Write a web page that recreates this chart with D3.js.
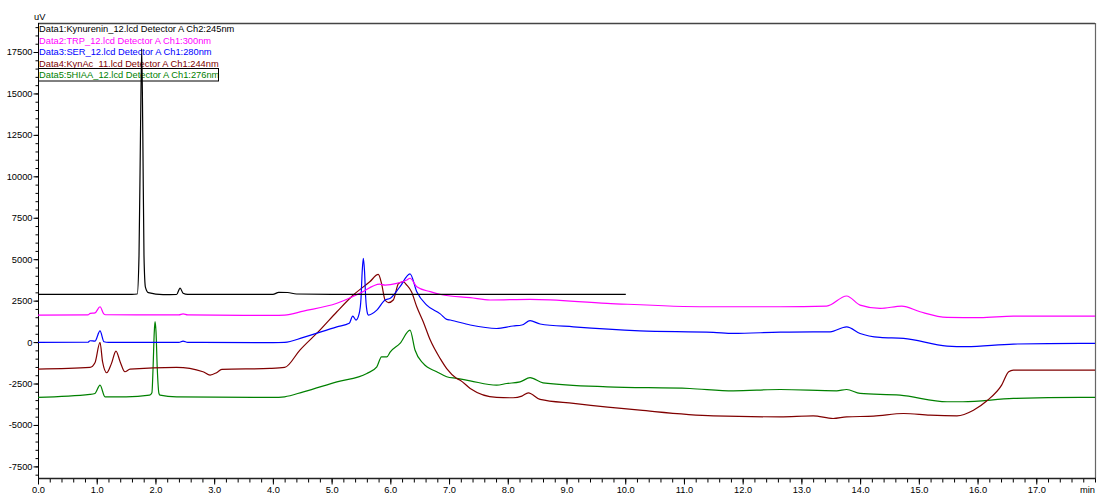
<!DOCTYPE html>
<html>
<head>
<meta charset="utf-8">
<script src="https://cdn.jsdelivr.net/npm/d3@7"></script>
<style>
  html, body { margin: 0; padding: 0; background: #fff; }
  svg { display: block; font-family: "Liberation Sans", Arial, sans-serif; }
</style>
</head>
<body>
<svg id="chart" width="1097" height="495"></svg>
<script>
// Chromatogram traces: [retention time (min), signal (uV)]
const kynurenin = [
  [0, 2880], [1.60, 2880], [1.69, 2900], [1.72, 5200], [1.745, 12500], [1.766, 17700],
  [1.785, 12500], [1.805, 5200], [1.83, 3300], [1.88, 2980], [2.13, 2860], [2.36, 2870],
  [2.42, 3260], [2.47, 2950], [2.55, 2880], [4.00, 2880], [4.10, 3000], [4.25, 2990],
  [4.40, 2900], [5.0, 2880], [10.01, 2880]
];
const trp = [
  [0, 1630], [0.85, 1640], [0.89, 1730], [0.97, 1760], [1.056, 2130], [1.12, 1700],
  [1.15, 1650], [2.40, 1640], [2.47, 1700], [2.55, 1640], [4.0, 1610], [4.2, 1630],
  [4.52, 1870], [5.09, 2340], [5.48, 2940], [5.82, 3500], [5.91, 3440], [6.11, 3540],
  [6.28, 3740], [6.335, 3850], [6.45, 3340], [6.68, 3040], [6.90, 2840], [7.36, 2680],
  [7.70, 2540], [8.38, 2580], [9.69, 2340], [11.39, 2130], [12.64, 2130], [13.43, 2170],
  [13.77, 2780], [14.0, 2230], [14.34, 2030], [14.71, 2170], [15.02, 1830], [15.48, 1490],
  [16.04, 1470], [16.61, 1570], [18, 1570]
];
const ser = [
  [0, -20], [0.85, -10], [0.886, 80], [0.97, 60], [1.056, 680], [1.124, 20], [1.2, -20],
  [2.40, -20], [2.47, 60], [2.55, -20], [4.0, -30], [4.2, -20], [4.52, 280], [5.09, 920],
  [5.30, 1130], [5.36, 1570], [5.415, 1330], [5.47, 1730], [5.50, 2600], [5.52, 4200],
  [5.54, 5050], [5.56, 4300], [5.58, 2700], [5.61, 1730], [5.625, 1630], [5.77, 1930],
  [5.91, 2540], [6.0, 2640], [6.165, 3340], [6.335, 4110], [6.45, 3040], [6.62, 2230],
  [6.85, 1700], [6.96, 1370], [7.02, 1330], [7.36, 1030], [7.81, 820], [8.09, 970],
  [8.24, 1030], [8.38, 1290], [8.55, 1090], [9.12, 920], [10.25, 680], [11.5, 590],
  [11.84, 520], [12.64, 600], [13.2, 620], [13.49, 620], [13.77, 920], [14.0, 520],
  [14.34, 280], [14.74, 220], [15.48, -240], [15.81, -280], [16.61, -120], [17.75, -80],
  [18, -80]
];
const kynac = [
  [0, -1630], [0.886, -1530], [0.97, -1250], [1.056, -20], [1.10, -1200], [1.17, -1850],
  [1.25, -1300], [1.328, -540], [1.40, -1200], [1.48, -1790], [1.567, -1630], [2.36, -1530],
  [2.81, -1790], [2.93, -1990], [3.04, -1850], [3.13, -1650], [3.95, -1590], [4.20, -1530],
  [4.46, -480], [4.80, 720], [5.09, 1830], [5.37, 2840], [5.65, 3640], [5.795, 4080],
  [5.85, 3540], [5.91, 2540], [5.97, 2380], [6.05, 2540], [6.14, 3540], [6.22, 3640],
  [6.28, 3440], [6.36, 3040], [6.45, 2130], [6.56, 1230], [6.68, 120], [6.85, -1000],
  [6.96, -1600], [7.13, -2190], [7.19, -2300], [7.36, -2800], [7.81, -3340], [8.09, -3360],
  [8.24, -3260], [8.35, -3060], [8.55, -3460], [9.12, -3700], [10.25, -4110], [11.5, -4450],
  [12.64, -4510], [13.2, -4450], [13.54, -4610], [13.77, -4510], [14.23, -4470],
  [14.74, -4310], [15.19, -4410], [15.65, -4450], [15.93, -4110], [16.16, -3540],
  [16.41, -2600], [16.53, -1790], [16.61, -1690], [18, -1690]
];
const hiaa = [
  [0, -3340], [0.886, -3160], [0.97, -3100], [1.056, -2600], [1.141, -3300], [1.5, -3300],
  [1.90, -3200], [1.94, -3050], [1.96, -1500], [1.98, 600], [1.993, 1230], [2.01, 600],
  [2.03, -1500], [2.06, -3100], [2.078, -3200], [2.36, -3300], [4.0, -3340], [4.2, -3300],
  [4.52, -3000], [5.09, -2400], [5.60, -1890], [5.77, -1490], [5.85, -890], [5.94, -890],
  [6.0, -590], [6.165, -80], [6.335, 720], [6.42, -480], [6.56, -1290], [6.79, -1790],
  [6.96, -2090], [7.13, -2190], [7.36, -2340], [7.81, -2600], [7.98, -2500], [8.21, -2400],
  [8.38, -2150], [8.60, -2460], [9.69, -2700], [11.1, -2800], [11.84, -2940], [12.64, -2860],
  [13.6, -2940], [13.77, -2860], [14.0, -3100], [14.68, -3200], [15.48, -3600], [15.75, -3600],
  [16.61, -3400], [17.75, -3340], [18, -3340]
];

const legendLabels = [
  "Data1:Kynurenin_12.lcd Detector A Ch2:245nm",
  "Data2:TRP_12.lcd Detector A Ch1:300nm",
  "Data3:SER_12.lcd Detector A Ch1:280nm",
  "Data4:KynAc_11.lcd Detector A Ch1:244nm",
  "Data5:5HIAA_12.lcd Detector A Ch1:276nm"
];
const seriesColors = ["#000000", "#ff00ff", "#0000ff", "#800000", "#008000"];
const yMajorTicks = [-7500, -5000, -2500, 0, 2500, 5000, 7500, 10000, 12500, 15000, 17500];
const xMajorTicks = [0, 1, 2, 3, 4, 5, 6, 7, 8, 9, 10, 11, 12, 13, 14, 15, 16, 17];

const series = [kynurenin, trp, ser, kynac, hiaa];

const svg = d3.select("#chart");
const plotLeft = 38, plotRight = 1095, plotTop = 23, plotBottom = 478;

const x = d3.scaleLinear().domain([0, 18]).range([plotLeft, plotRight]);
const y = d3.scaleLinear().domain([-8200, 19250]).range([plotBottom, plotTop]);

const fontSize = 9.3;
const fontFamily = "Liberation Sans, Arial, sans-serif";

// frame: top and right borders
svg.append("line").attr("x1", plotLeft).attr("x2", plotRight).attr("y1", plotTop + 0.5).attr("y2", plotTop + 0.5)
  .attr("stroke", "#444").attr("stroke-width", 1.6);
svg.append("line").attr("x1", plotRight + 0.5).attr("x2", plotRight + 0.5).attr("y1", plotTop).attr("y2", plotBottom)
  .attr("stroke", "#666").attr("stroke-width", 1.2);

// y axis: minor ticks every 500, labelled major ticks every 2500
const yMinor = d3.range(-8000, 19251, 500);
const yMinorAxis = d3.axisLeft(y).tickValues(yMinor).tickSize(3).tickFormat("");
svg.append("g").attr("transform", `translate(${plotLeft + 0.5},0)`).call(yMinorAxis)
  .call(g => g.select(".domain").remove());
const yAxis = d3.axisLeft(y).tickValues(yMajorTicks).tickSize(5).tickPadding(1)
  .tickFormat(d => String(d));
const gy = svg.append("g").attr("transform", `translate(${plotLeft + 0.5},0)`).call(yAxis);
gy.select(".domain").attr("d", `M0,${plotTop}V${plotBottom}`).attr("stroke", "#000");
gy.selectAll("text").attr("font-size", fontSize).attr("font-family", fontFamily).attr("fill", "#000");

// x axis: minor ticks every 0.2 min, labelled major ticks every minute
const xMinor = d3.range(0, 18.001, 0.2).map(v => Math.round(v * 10) / 10);
const xMinorAxis = d3.axisBottom(x).tickValues(xMinor).tickSize(4).tickFormat("");
svg.append("g").attr("transform", `translate(0,${plotBottom + 0.5})`).call(xMinorAxis)
  .call(g => g.select(".domain").remove());
const xAxis = d3.axisBottom(x).tickValues(xMajorTicks).tickSize(6).tickPadding(1.5)
  .tickFormat(d3.format(".1f"));
const gx = svg.append("g").attr("transform", `translate(0,${plotBottom + 0.5})`).call(xAxis);
gx.select(".domain").attr("d", `M${plotLeft},0H${plotRight + 1}`).attr("stroke", "#222").attr("stroke-width", 1.6);
gx.selectAll("text").attr("font-size", fontSize).attr("font-family", fontFamily).attr("fill", "#000");

// unit labels
svg.append("text").attr("x", 34).attr("y", 20).attr("font-size", fontSize).text("uV");
svg.append("text").attr("x", 1080).attr("y", 493).attr("font-size", fontSize).text("min");

// legend
const legend = svg.append("g");
legendLabels.forEach((label, i) => {
  legend.append("text")
    .attr("x", 39)
    .attr("y", 32.3 + i * 11.45)
    .attr("font-size", fontSize)
    .attr("fill", seriesColors[i])
    .text(label);
});
legend.append("rect").attr("x", 38.5).attr("y", 68.5).attr("width", 180).attr("height", 12.5)
  .attr("fill", "none").attr("stroke", "#000").attr("stroke-width", 1);

// traces
svg.append("defs").append("clipPath").attr("id", "plot-clip")
  .append("rect").attr("x", plotLeft).attr("y", plotTop)
  .attr("width", plotRight - plotLeft).attr("height", plotBottom - plotTop);

const line = d3.line()
  .x(d => x(d[0]))
  .y(d => y(d[1]))
  .curve(d3.curveMonotoneX);

const traces = svg.append("g").attr("clip-path", "url(#plot-clip)");
// draw back to front so Data1 sits on top
for (let i = series.length - 1; i >= 0; i--) {
  traces.append("path")
    .datum(series[i])
    .attr("d", line)
    .attr("fill", "none")
    .attr("stroke", seriesColors[i])
    .attr("stroke-width", 1.2)
    .attr("stroke-linejoin", "round");
}
</script>
</body>
</html>
